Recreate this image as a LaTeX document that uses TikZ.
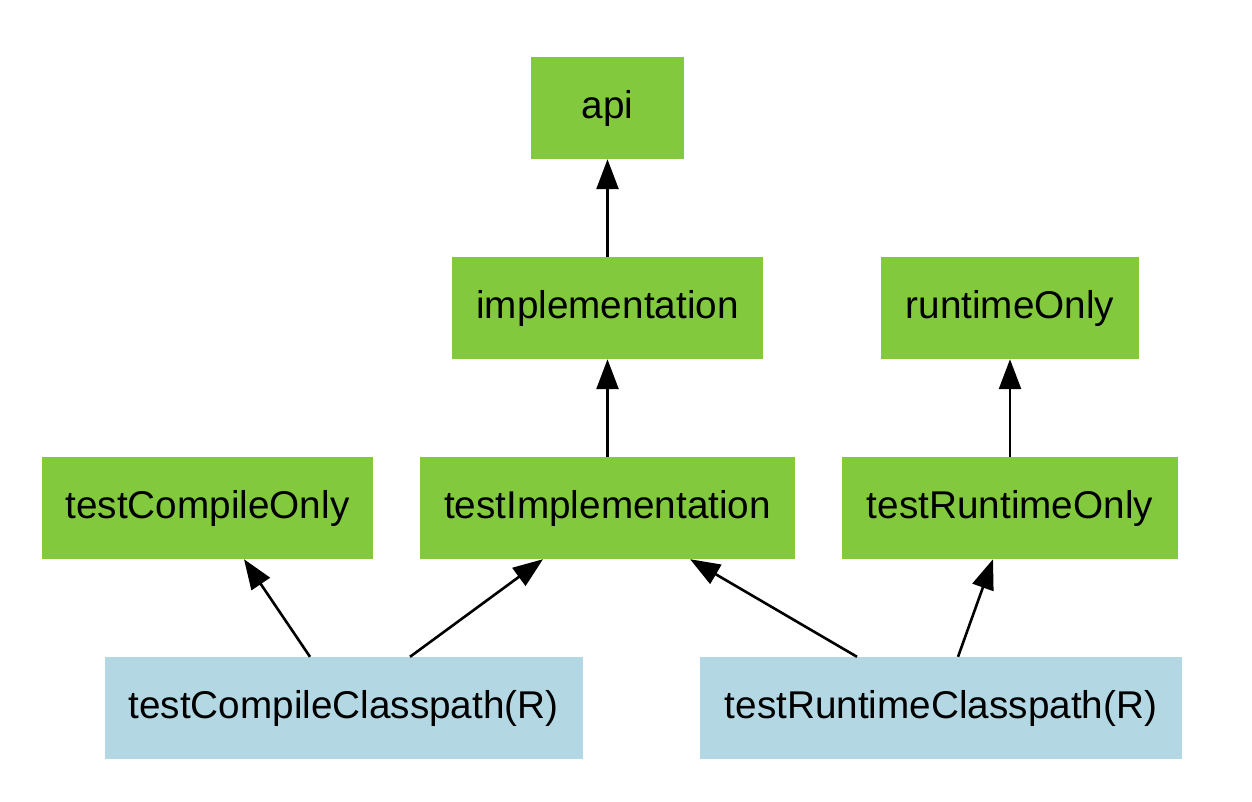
\documentclass[tikz,border=0pt]{standalone}
\usepackage{fontspec}
\setmainfont{Liberation Sans}
\usetikzlibrary{arrows.meta}
\definecolor{gradgreen}{HTML}{82C93E}
\definecolor{gradblue}{HTML}{B3D7E3}
\tikzset{
  box/.style={rectangle, inner sep=0pt, minimum height=102pt, font=\fontsize{38.7}{46}\selectfont, text=black},
  gbox/.style={box, fill=gradgreen},
  bbox/.style={box, fill=gradblue},
  arr/.style={line width=2.6pt, -{Triangle[length=30pt,width=22pt]}, black}
}
\begin{document}
\begin{tikzpicture}[x=1pt,y=-1pt]
\useasboundingbox (0,0) rectangle (1252,802);
\node[gbox, minimum width=153pt] (api) at (607.5,108) {api};
\node[gbox, minimum width=311pt] (impl) at (607.5,308) {implementation};
\node[gbox, minimum width=258pt] (ro) at (1010,308) {runtimeOnly};
\node[gbox, minimum width=331pt] (tco) at (207.5,508) {testCompileOnly};
\node[gbox, minimum width=375pt] (ti) at (607.5,508) {testImplementation};
\node[gbox, minimum width=336pt] (tro) at (1010,508) {testRuntimeOnly};
\node[bbox, minimum width=478pt] (tcc) at (343.5,708) {testCompileClasspath(R)};
\node[bbox, minimum width=482pt] (trc) at (941,708) {testRuntimeClasspath(R)};
\draw[arr] (impl.north) -- (api.south);
\draw[arr] (ti.north) -- (impl.south);
\draw[arr] (tro.north) -- (ro.south);
\draw[arr] ([xshift=-33.5pt]tcc.north) -- ([xshift=36.5pt]tco.south);
\draw[arr] ([xshift=66.5pt]tcc.north) -- ([xshift=-64.5pt]ti.south);
\draw[arr] ([xshift=-84pt]trc.north) -- ([xshift=82.5pt]ti.south);
\draw[arr] ([xshift=17pt]trc.north) -- ([xshift=-17pt]tro.south);
\end{tikzpicture}
\end{document}
